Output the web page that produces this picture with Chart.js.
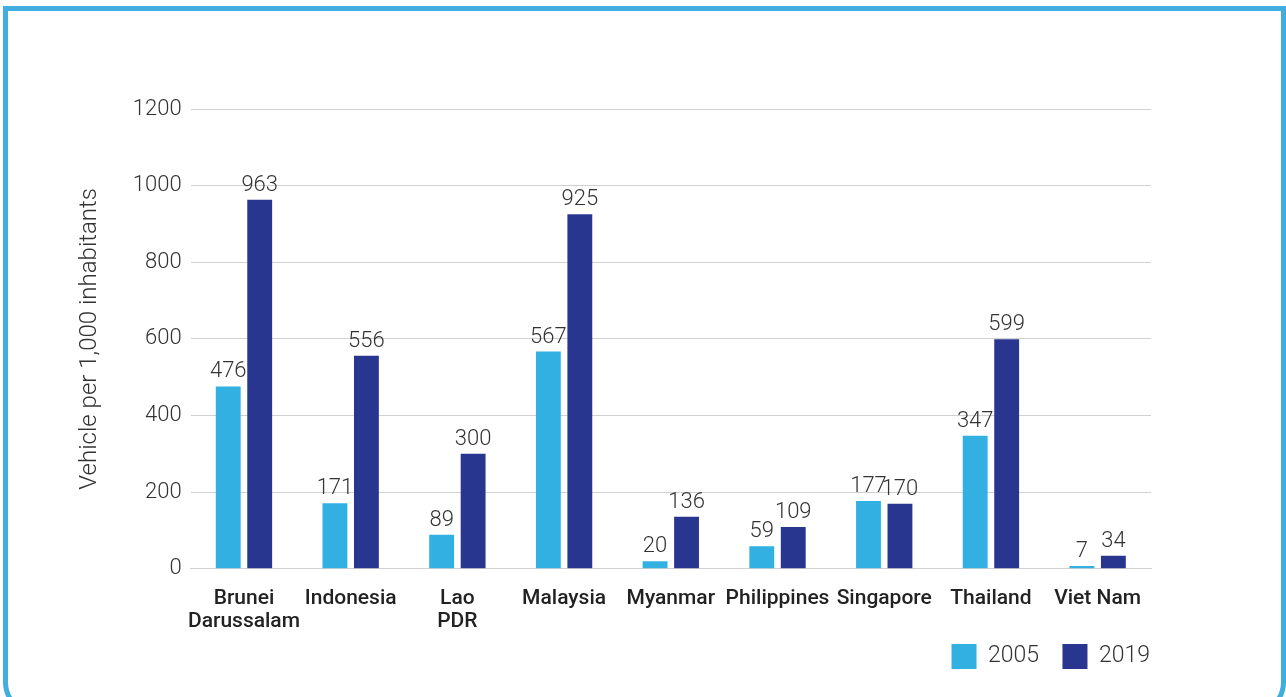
<!DOCTYPE html>
<html>
<head>
<meta charset="utf-8">
<script src="https://cdn.jsdelivr.net/npm/chart.js@4.4.0/dist/chart.umd.min.js"></script>
<style>
    html, body { margin: 0; padding: 0; background: #ffffff; }
    body { width: 1286px; height: 697px; position: relative; overflow: hidden; }
    .frame {
        position: absolute;
        left: 3px; top: 6px;
        width: 1273px; height: 700px;
        border: 5px solid #41ade0;
        border-radius: 0 0 34px 34px;
    }
    .chart-box { position: absolute; left: 0; top: 0; width: 1286px; height: 697px; }
</style>
</head>
<body>
<div class="frame"></div>
<div class="chart-box"><canvas id="vehicle-chart"></canvas></div>
<script>
// Vehicle ownership per 1,000 inhabitants, ASEAN

const countries = [
    ['Brunei', 'Darussalam'],
    'Indonesia',
    ['Lao', 'PDR'],
    'Malaysia',
    'Myanmar',
    'Philippines',
    'Singapore',
    'Thailand',
    'Viet Nam'
];
const values2005 = [476, 171, 89, 567, 20, 59, 177, 347, 7];
const values2019 = [963, 556, 300, 925, 136, 109, 170, 599, 34];
const yTicks = [0, 200, 400, 600, 800, 1000, 1200];

const chartColors = ['#33b0e2', '#28368f'];

// draw value on top of each bar
const barValueLabels = {
    id: 'barValueLabels',
    afterDatasetsDraw(chart) {
        const ctx = chart.ctx;
        ctx.save();
        ctx.font = '300 22px Roboto';
        ctx.fillStyle = '#333333';
        ctx.textAlign = 'center';
        ctx.textBaseline = 'alphabetic';
        chart.data.datasets.forEach((ds, i) => {
            const meta = chart.getDatasetMeta(i);
            meta.data.forEach((bar, j) => {
                ctx.fillText(ds.data[j], bar.x, bar.y - 9);
            });
        });
        ctx.restore();
    }
};

const ctx = document.getElementById('vehicle-chart').getContext('2d');

new Chart(ctx, {
    type: 'bar',
    data: {
        labels: countries,
        datasets: [
            {
                label: '2005',
                data: values2005,
                backgroundColor: chartColors[0],
                categoryPercentage: 0.59,
                barPercentage: 0.79
            },
            {
                label: '2019',
                data: values2019,
                backgroundColor: chartColors[1],
                categoryPercentage: 0.59,
                barPercentage: 0.79
            }
        ]
    },
    options: {
        responsive: true,
        maintainAspectRatio: false,
        animation: false,
        layout: {
            padding: { left: 76, right: 135, top: 109, bottom: 18 }
        },
        scales: {
            x: {
                grid: { display: false },
                border: { color: '#d0d0d0' },
                ticks: {
                    color: '#222222',
                    font: { family: 'Roboto', size: 21, weight: '500', lineHeight: 1.1 },
                    maxRotation: 0,
                    autoSkip: false,
                    padding: 10
                }
            },
            y: {
                min: 0,
                max: 1200,
                afterBuildTicks: axis => {
                    axis.ticks = yTicks.map(v => ({ value: v }));
                },
                grid: { color: '#d0d0d0', drawTicks: false },
                border: { display: false },
                ticks: {
                    color: '#333333',
                    font: { family: 'Roboto', size: 22, weight: '300' },
                    padding: 9,
                    callback: v => String(v)
                },
                title: {
                    display: true,
                    text: 'Vehicle per 1,000 inhabitants',
                    color: '#333333',
                    font: { family: 'Roboto', size: 24, weight: '300' },
                    padding: { top: 0, bottom: 19 }
                }
            }
        },
        plugins: {
            legend: {
                position: 'bottom',
                align: 'end',
                labels: {
                    boxWidth: 25,
                    boxHeight: 25,
                    padding: 1,
                    color: '#333333',
                    font: { family: 'Roboto', size: 23, weight: '300' },
                    generateLabels: chart => {
                        const items = Chart.defaults.plugins.legend.labels.generateLabels(chart);
                        // widen the gap after every item but the last
                        items.forEach((item, i) => {
                            if (i < items.length - 1) item.text = item.text + '    ';
                        });
                        return items;
                    }
                }
            },
            tooltip: { enabled: false }
        }
    },
    plugins: [barValueLabels]
});
</script>
</body>
</html>
